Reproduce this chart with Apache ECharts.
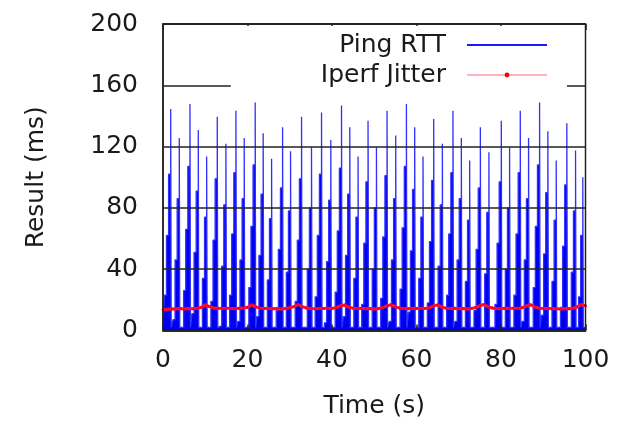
<!DOCTYPE html>
<html>
<head>
<meta charset="utf-8">
<script src="https://cdn.jsdelivr.net/npm/echarts@6/dist/echarts.min.js"></script>
<style>
  html, body { margin: 0; padding: 0; background: #fff; }
  #chart { width: 618px; height: 426px; }
</style>
</head>
<body>
<div id="chart"></div>
<script>
// ---- Data ----
const xTicks = [0, 20, 40, 60, 80, 100];
const yTicks = [0, 40, 80, 120, 160, 200];

// Ping RTT saw-tooth: each cycle ramps up in ~40 ms steps, then drops back.
// spikeTime = time of the peak sample (s); the ramp steps precede it.
const spikeTime = [1.82, 3.85, 6.38, 8.35, 10.33, 12.84, 14.89, 17.26, 19.22, 21.82,
  23.71, 25.70, 28.30, 30.19, 32.79, 35.15, 37.52, 39.72, 42.25, 44.21,
  46.17, 48.53, 50.52, 53.03, 55.08, 57.61, 59.57, 61.54, 64.07, 66.12,
  68.63, 70.61, 72.58, 75.11, 77.14, 80.07, 82.03, 84.56, 86.52, 89.13,
  91.09, 93.07, 95.58, 97.64, 99.36];
const rttPeak = [144.5, 125.6, 147.8, 130.9, 113.5, 139.5, 121.8, 143.4, 125.6, 148.8,
  128.7, 112.0, 132.6, 117.0, 139.5, 119.6, 142.3, 124.3, 146.8, 132.6,
  113.5, 136.9, 119.6, 143.4, 127.2, 147.8, 132.6, 113.5, 138.0, 121.8,
  143.4, 125.6, 110.9, 132.6, 116.3, 136.9, 119.6, 143.4, 125.6, 148.8,
  130.0, 110.9, 135.2, 117.4, 100.0];
const rttStep3 = [102, 86, 107, 91, 74, 99, 82, 103, 86, 108,
  89, 73, 93, 78, 99, 80, 102, 85, 106, 89,
  74, 97, 80, 101, 86, 107, 92, 74, 98, 82,
  103, 86, 72, 93, 77, 97, 80, 103, 86, 108,
  90, 72, 95, 78, 62];
const rttStep2 = [62, 46, 66, 51, 34, 59, 42, 63, 46, 68,
  49, 33, 53, 38, 59, 40, 62, 45, 65, 49,
  34, 57, 40, 61, 46, 67, 52, 34, 58, 42,
  63, 46, 32, 53, 37, 57, 40, 63, 46, 68,
  50, 32, 55, 38, 22];
const rttStep1 = [23, 7, 26, 11, 2, 19, 3, 23, 6, 28,
  9, 2, 13, 2, 19, 2, 22, 5, 25, 9,
  2, 17, 2, 21, 6, 27, 12, 2, 18, 2,
  23, 6, 2, 13, 2, 17, 2, 23, 6, 28,
  10, 2, 15, 2, 2];
const rttFloor = 2;

// Iperf jitter, one value per second 0..100
const jitterTime = [];
const jitterVal = [13.6, 13.9, 14.2, 14.0, 14.3, 14.1, 14.4, 14.2, 14.5, 15.0,
  16.8, 15.6, 14.7, 14.5, 14.3, 14.6, 14.4, 14.2, 14.5, 14.7,
  15.2, 16.7, 15.4, 14.6, 14.3, 14.5, 14.2, 14.4, 14.1, 14.4,
  14.8, 15.6, 17.0, 15.5, 14.7, 14.4, 14.2, 14.5, 14.3, 14.6,
  14.4, 15.0, 16.2, 16.6, 15.2, 14.6, 14.3, 14.5, 14.2, 14.4,
  14.1, 14.4, 14.9, 16.0, 16.9, 15.4, 14.7, 14.4, 14.2, 14.5,
  14.3, 14.6, 14.4, 14.8, 16.0, 16.7, 15.3, 14.6, 14.3, 14.5,
  14.2, 14.4, 14.1, 14.4, 15.0, 16.2, 17.0, 15.4, 14.7, 14.4,
  14.2, 14.5, 14.3, 14.6, 14.4, 14.9, 16.0, 16.8, 15.4, 14.6,
  14.3, 14.5, 14.2, 14.4, 14.1, 14.4, 14.2, 14.5, 15.4, 16.9, 16.2];
for (let i = 0; i < jitterVal.length; i++) jitterTime.push(i);

// ---- Build the step-line data for the library ----
const pingData = [[0, rttFloor]];
for (let k = 0; k < spikeTime.length; k++) {
  const T = spikeTime[k];
  pingData.push([T - 1.5, rttStep1[k]], [T - 1.0, rttStep2[k]], [T - 0.5, rttStep3[k]],
                [T, rttPeak[k]], [T + 0.12, rttFloor]);
}
pingData.push([100, rttFloor]);
const jitterData = jitterTime.map((t, i) => [t, jitterVal[i]]);

const FONT = 'DejaVu Sans';
const TXT = '#1a1a1a';
const chart = echarts.init(document.getElementById('chart'), null, { renderer: 'canvas' });
chart.setOption({
  animation: false,
  backgroundColor: '#ffffff',
  grid: { left: 163, right: 32.5, top: 24, bottom: 95.5, show: true, borderColor: '#222', borderWidth: 1.5, backgroundColor: 'transparent', z: 5 },
  legend: {
    orient: 'vertical', align: 'right', right: 51, top: 26,
    padding: [6, 19, 3, 90],
    backgroundColor: '#ffffff',
    itemWidth: 80, itemHeight: 6, itemGap: 4,
    textStyle: { fontFamily: FONT, fontSize: 25, color: TXT, lineHeight: 26, padding: [0, 16, 0, 0] },
    data: [
      { name: 'Ping RTT', itemStyle: { color: '#0000ff', opacity: 0 }, lineStyle: { color: '#1a1aff', width: 2 } },
      { name: 'Iperf Jitter', itemStyle: { color: '#ff0000' }, lineStyle: { color: '#ffb3bd', width: 2 } }
    ],
    z: 6
  },
  xAxis: [{
    type: 'value', min: xTicks[0], max: xTicks[xTicks.length - 1], interval: 20,
    name: 'Time (s)', nameLocation: 'middle', nameGap: 76,
    nameTextStyle: { fontFamily: FONT, fontSize: 25, color: TXT, verticalAlign: 'middle' },
    axisLine: { show: true, lineStyle: { color: '#222', width: 1.5 } },
    axisTick: { show: true, inside: true, length: 6, lineStyle: { color: '#222', width: 1.5 } },
    axisLabel: { fontFamily: FONT, fontSize: 25, color: TXT, margin: 17 },
    splitLine: { show: false },
    z: 5
  }, {
    type: 'value', position: 'top', min: xTicks[0], max: xTicks[xTicks.length - 1], interval: 20,
    axisLine: { show: true, lineStyle: { color: '#222', width: 1.5 } },
    axisTick: { show: true, inside: true, length: 6, lineStyle: { color: '#222', width: 1.5 } },
    axisLabel: { show: false },
    splitLine: { show: false },
    z: 5
  }],
  yAxis: {
    type: 'value', min: yTicks[0], max: yTicks[yTicks.length - 1], interval: 40,
    name: 'Result (ms)', nameLocation: 'middle', nameGap: 127, nameRotate: 90,
    nameTextStyle: { fontFamily: FONT, fontSize: 25, color: TXT, verticalAlign: 'middle' },
    axisLine: { show: true, lineStyle: { color: '#222', width: 1.5 } },
    axisTick: { show: false },
    axisLabel: { fontFamily: FONT, fontSize: 25, color: TXT, margin: 25 },
    splitLine: { show: true, lineStyle: { color: '#222', width: 1.5 } },
    z: 3
  },
  series: [
    {
      name: 'Ping RTT', type: 'line', data: pingData, xAxisIndex: 0, step: 'end',
      symbol: 'none', showSymbol: false, silent: true,
      lineStyle: { color: '#3030ff', width: 1.3 },
      areaStyle: { color: '#0000f0', opacity: 1, origin: 'start' },
      itemStyle: { color: '#0000ff' },
      z: 2
    },
    {
      name: 'Iperf Jitter', type: 'line', data: jitterData, xAxisIndex: 0,
      symbol: 'circle', symbolSize: 3, showSymbol: true, showAllSymbol: true, silent: true,
      lineStyle: { color: '#ff1030', width: 3 },
      itemStyle: { color: '#ff0020' },
      z: 4
    }
  ]
});
</script>
</body>
</html>
